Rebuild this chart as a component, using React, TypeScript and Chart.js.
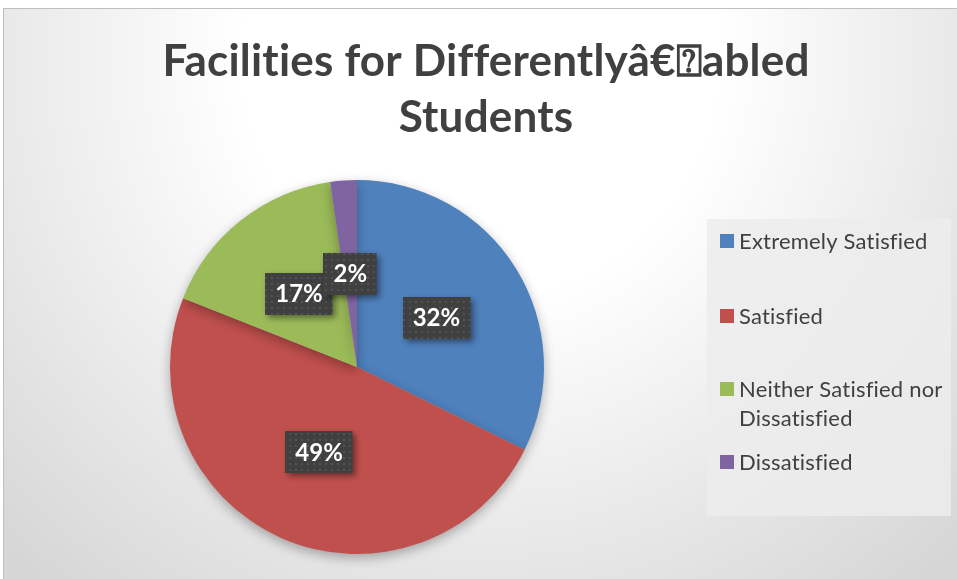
import React, { useEffect, useRef } from "react";
import { Chart, registerables } from "chart.js";
Chart.register(...registerables);

const titleLines = ["Facilities for Differentlyâ€\u2370abled", "Students"];
const categories = [
  "Extremely Satisfied",
  "Satisfied",
  "Neither Satisfied nor Dissatisfied",
  "Dissatisfied",
];
const values = [32.3, 48.7, 16.7, 2.3];
const colors = ["#4f81bd", "#c0504d", "#9bbb59", "#8064a2"];

const FONT = "Lato, 'Open Sans', sans-serif";

function wrap(ctx: CanvasRenderingContext2D, text: string, maxW: number): string[] {
  const words = text.split(" ");
  const lines: string[] = [];
  let cur = "";
  for (const w of words) {
    const t = cur ? cur + " " + w : w;
    if (ctx.measureText(t).width > maxW && cur) {
      lines.push(cur);
      cur = w;
    } else cur = t;
  }
  if (cur) lines.push(cur);
  return lines;
}

const decorPlugin = {
  id: "decor",
  beforeDraw(chart: any) {
    const ctx = chart.ctx as any;
    const W = chart.width, H = chart.height;
    ctx.save();
    ctx.fillStyle = "#ffffff";
    ctx.fillRect(0, 0, W, H);
    const g = ctx.createRadialGradient(480, 60, 0, 480, 60, 680);
    g.addColorStop(0, "#ffffff");
    g.addColorStop(0.35, "#ffffff");
    g.addColorStop(1, "#d6d6d6");
    ctx.fillStyle = g;
    ctx.fillRect(3, 8, W - 3, H - 8);
    ctx.strokeStyle = "#bfbfbf";
    ctx.lineWidth = 1;
    ctx.beginPath();
    ctx.moveTo(3.5, H);
    ctx.lineTo(3.5, 8.5);
    ctx.lineTo(W, 8.5);
    ctx.stroke();

    // title
    ctx.letterSpacing = "0.2px";
    ctx.fillStyle = "#404040";
    ctx.font = `bold 44px ${FONT}`;
    ctx.textAlign = "center";
    ctx.textBaseline = "alphabetic";
    ctx.fillText(titleLines[0], 486, 76);
    ctx.fillText(titleLines[1], 486, 132);

    // legend background
    ctx.fillStyle = "rgba(236,236,236,0.85)";
    ctx.fillRect(707, 219, 244, 297);

    // legend
    const labels: string[] = chart.data.labels;
    const bg: string[] = chart.data.datasets[0].backgroundColor;
    const rowY = [241, 316, 389, 462];
    const lineH = 29;
    ctx.font = `22px ${FONT}`;
    ctx.textAlign = "left";
    ctx.textBaseline = "middle";
    labels.forEach((lab, i) => {
      const y = rowY[i];
      ctx.fillStyle = bg[i];
      ctx.fillRect(720, y - 7, 14, 14);
      ctx.fillStyle = "#404040";
      const lines = wrap(ctx, lab, 206);
      lines.forEach((ln, j) => ctx.fillText(ln, 739, y + 1 + j * lineH));
    });
    ctx.restore();
  },
  beforeDatasetsDraw(chart: any) {
    const ctx = chart.ctx as CanvasRenderingContext2D;
    ctx.save();
    ctx.shadowColor = "rgba(0,0,0,0.3)";
    ctx.shadowBlur = 12;
    ctx.shadowOffsetY = 4;
  },
  afterDatasetsDraw(chart: any) {
    const ctx = chart.ctx as any;
    ctx.restore();
    const meta = chart.getDatasetMeta(0);
    const data: number[] = chart.data.datasets[0].data;
    const total = data.reduce((a, b) => a + b, 0);
    const pc = document.createElement("canvas");
    pc.width = 6;
    pc.height = 6;
    const p = pc.getContext("2d")!;
    p.fillStyle = "#404040";
    p.fillRect(0, 0, 6, 6);
    p.fillStyle = "#525252";
    p.fillRect(1, 1, 2, 2);
    const pattern = ctx.createPattern(pc, "repeat")!;
    ctx.save();
    ctx.font = `bold 24px ${FONT}`;
    ctx.textAlign = "center";
    ctx.textBaseline = "middle";
    meta.data.forEach((arc: any, i: number) => {
      const pos = arc.tooltipPosition();
      const txt = Math.round((data[i] / total) * 100) + "%";
      const tw = ctx.measureText(txt).width;
      const bw = tw + 20, bh = 42;
      const x = Math.round(pos.x - bw / 2), y = Math.round(pos.y - bh / 2);
      ctx.save();
      ctx.shadowColor = "rgba(0,0,0,0.45)";
      ctx.shadowBlur = 6;
      ctx.shadowOffsetX = 3;
      ctx.shadowOffsetY = 3;
      ctx.fillStyle = pattern;
      ctx.fillRect(x, y, bw, bh);
      ctx.restore();
      ctx.fillStyle = "#ffffff";
      ctx.fillText(txt, pos.x, pos.y + 1);
    });
    ctx.restore();
  },
};

export default function App() {
  const ref = useRef<HTMLCanvasElement>(null);
  useEffect(() => {
    const chart = new Chart(ref.current!, {
      type: "pie",
      data: {
        labels: categories,
        datasets: [
          {
            data: values,
            backgroundColor: colors,
            borderWidth: 0,
          },
        ],
      },
      options: {
        responsive: false,
        animation: false,
        layout: { padding: { left: 170, right: 413, top: 180, bottom: 25 } },
        plugins: {
          legend: { display: false },
          title: { display: false },
          tooltip: { enabled: false },
        },
      },
      plugins: [decorPlugin],
    });
    return () => chart.destroy();
  }, []);
  return (
    <div style={{ position: "absolute", left: 0, top: 0, width: 957, height: 579 }}>
      <canvas ref={ref} width={957} height={579} style={{ display: "block" }} />
    </div>
  );
}
